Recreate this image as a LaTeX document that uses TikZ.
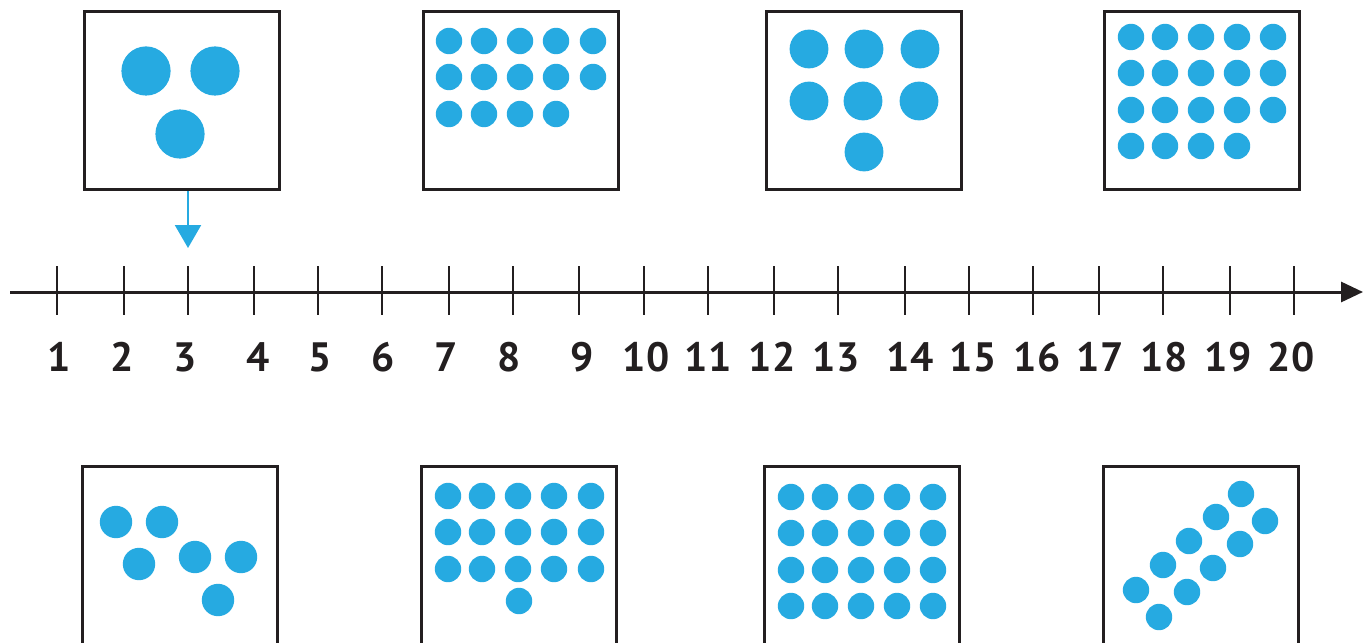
\documentclass[tikz,border=0pt]{standalone}
\usepackage{fontspec}
\setsansfont{PT Sans}
\usetikzlibrary{arrows.meta, positioning}
\definecolor{dotblue}{RGB}{38,170,225}
\definecolor{linegray}{RGB}{35,31,32}

\begin{document}
\begin{tikzpicture}[x=0.5pt, y=-0.5pt,
    every node/.style={font=\sffamily\bfseries},
    cardbox/.style={draw=linegray, rectangle, line width=1.5pt, minimum width=97.5pt, minimum height=89pt, inner sep=0pt},
    dot/.style={fill=dotblue},
    tickline/.style={draw=linegray, line width=1.2pt},
    ticklabel/.style={font=\fontsize{20.5}{22}\selectfont\sffamily\bfseries, text=linegray, inner sep=0pt}
]
    % Frame
    \fill[white] (0,0) rectangle (1363,642);
    \useasboundingbox (0,0) rectangle (1363,642);
    \clip (0,0) rectangle (1363,642);

    % Boxes (Row 1)
    \node (box1) [cardbox] at (182, 100.5) {};
    \node (box2) [cardbox] at (521, 100.5) {};
    \node (box3) [cardbox] at (863.5, 100.5) {};
    \node (box4) [cardbox] at (1202, 100.5) {};

    % Boxes (Row 2)
    \node (box5) [cardbox] at (180, 555.5) {};
    \node (box6) [cardbox] at (519, 555.5) {};
    \node (box7) [cardbox] at (861.5, 555.5) {};
    \node (box8) [cardbox] at (1200.5, 555.5) {};

    % Dots
    \foreach \x/\y in {146/71, 215/71, 180/134}
        \fill[dot] (\x,\y) circle (12.3pt);

    \foreach \y in {41, 77}
        \foreach \x in {449, 484, 520, 556, 593}
            \fill[dot] (\x,\y) circle (6.6pt);
    \foreach \x in {449, 484, 520, 556}
        \fill[dot] (\x,114) circle (6.6pt);

    \foreach \x/\y in {809/49, 864/49, 920/49, 809/101, 863/101, 919/101, 864/152}
        \fill[dot] (\x,\y) circle (9.7pt);

    \foreach \y in {37, 73, 110}
        \foreach \x in {1131, 1165, 1201, 1237, 1273}
            \fill[dot] (\x,\y) circle (6.6pt);
    \foreach \x in {1131, 1165, 1201, 1237}
        \fill[dot] (\x,146) circle (6.6pt);

    \foreach \x/\y in {116/522, 162/522, 139/564, 195/557, 241/557, 218/600}
        \fill[dot] (\x,\y) circle (8.1pt);

    \foreach \y in {496, 532, 569}
        \foreach \x in {448, 482, 518, 554, 591}
            \fill[dot] (\x,\y) circle (6.6pt);
    \fill[dot] (519,601) circle (6.6pt);

    \foreach \y in {497, 533, 570, 606}
        \foreach \x in {791, 825, 861, 897, 933}
            \fill[dot] (\x,\y) circle (6.6pt);

    \foreach \x/\y in {1241/494, 1265/521, 1216/517, 1240/544, 1189/541,
                       1213/568, 1163/565, 1187/592, 1136/590, 1159/617}
        \fill[dot] (\x,\y) circle (6.6pt);

    % Number line
    \coordinate (axstart) at (10, 292);
    \coordinate (axend) at (1363, 292);
    \draw [linegray, line width=1.5pt, -{Triangle[length=11pt, width=10pt]}] (axstart) -- (axend);

    \foreach \n/\x/\lx in {1/57/59, 2/124/122, 3/188/185, 4/254/258, 5/318/320,
                           6/382/383, 7/449/446, 8/513/509, 9/579/582, 10/644/646,
                           11/708/708, 12/774/772, 13/838/836, 14/905/910, 15/969/973,
                           16/1033/1037, 17/1099/1100, 18/1163/1164, 19/1230/1228, 20/1294/1291} {
        \coordinate (t\n) at (\x, 292);
        \draw [tickline] (\x, 266) -- (\x, 315);
        \node (lab\n) [ticklabel] at (\lx, 357) {\n};
    }

    % Pointer
    \coordinate (pointer) at (188, 248);
    \draw [dotblue, line width=1.1pt, -{Triangle[length=11.5pt, width=13pt]}] (box1.south -| pointer) -- (pointer);

\end{tikzpicture}
\end{document}
